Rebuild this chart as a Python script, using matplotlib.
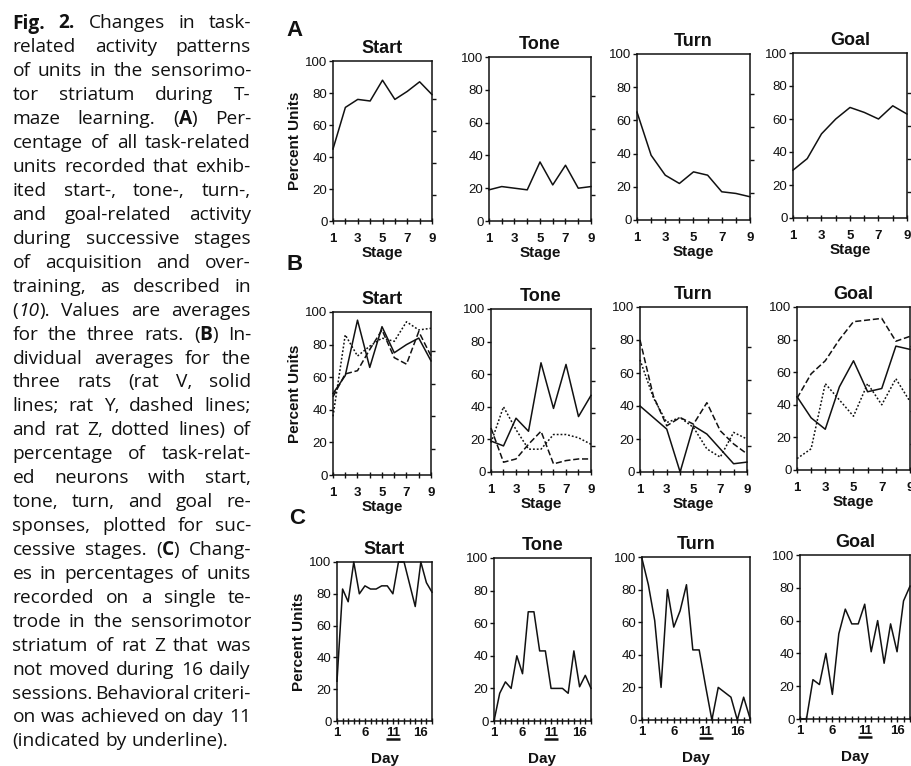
import re
import matplotlib
matplotlib.use('Agg')
import matplotlib.pyplot as plt
from matplotlib import transforms
from matplotlib.ticker import FixedLocator

W, H = 912, 766

stage = [1, 2, 3, 4, 5, 6, 7, 8, 9]
day = list(range(1, 19))
stage_labels = [1, 3, 5, 7, 9]
day_labels = [1, 6, 11, 16]
criterion_day = 11

# (A) averages for the three rats
a_start = [45, 71, 76, 75, 88, 76, 81, 87, 79]
a_tone = [19, 21, 20, 19, 36, 22, 34, 20, 21]
a_turn = [65, 39, 27, 22, 29, 27, 17, 16, 14]
a_goal = [29, 36, 51, 60, 67, 64, 60, 68, 63]

# (B) rat V solid, rat Y dashed, rat Z dotted
b_start_v = [50, 61, 95, 66, 91, 75, 80, 84, 70]
b_start_y = [48, 62, 64, 77, 89, 72, 68, 88, 73]
b_start_z = [36, 86, 73, 79, 84, 82, 94, 89, 90]
b_tone_v = [19, 16, 33, 25, 67, 39, 66, 34, 47]
b_tone_y = [27, 6, 8, 17, 25, 5, 7, 8, 8]
b_tone_z = [18, 40, 26, 14, 14, 23, 23, 21, 17]
b_turn_v = [40, 33, 26, 0, 28, 23, 14, 5, 6]
b_turn_y = [80, 46, 28, 33, 29, 42, 25, 17, 11]
b_turn_z = [68, 45, 30, 33, 27, 14, 9, 24, 20]
b_goal_v = [45, 32, 25, 51, 67, 48, 50, 76, 74]
b_goal_y = [44, 59, 67, 80, 91, 92, 93, 79, 82]
b_goal_z = [7, 13, 53, 43, 33, 53, 40, 56, 42]

# (C) single tetrode, rat Z, daily sessions
c_start = [25, 83, 75, 100, 80, 85, 83, 83, 85, 85, 80, 100, 100, 86, 72, 100, 87, 81]
c_tone = [0, 17, 24, 20, 40, 29, 67, 67, 43, 43, 20, 20, 20, 17, 43, 21, 28, 20]
c_turn = [99, 83, 61, 20, 80, 57, 67, 83, 43, 43, 21, 0, 20, 17, 14, 0, 14, 1]
c_goal = [0, 0, 24, 21, 40, 15, 52, 67, 58, 58, 70, 41, 60, 34, 58, 41, 72, 81]

titles = ['Start', 'Tone', 'Turn', 'Goal']

caption = [
    "<b>Fig.</b> <b>2.</b> Changes in task-",
    "related activity patterns",
    "of units in the sensorimo-",
    "tor striatum during T-",
    "maze learning. (<b>A</b>) Per-",
    "centage of all task-related",
    "units recorded that exhib-",
    "ited start-, tone-, turn-,",
    "and goal-related activity",
    "during successive stages",
    "of acquisition and over-",
    "training, as described in",
    "(<i>10</i>). Values are averages",
    "for the three rats. (<b>B</b>) In-",
    "dividual averages for the",
    "three rats (rat V, solid",
    "lines; rat Y, dashed lines;",
    "and rat Z, dotted lines) of",
    "percentage of task-relat-",
    "ed neurons with start,",
    "tone, turn, and goal re-",
    "sponses, plotted for suc-",
    "cessive stages. (<b>C</b>) Chang-",
    "es in percentages of units",
    "recorded on a single te-",
    "trode in the sensorimotor",
    "striatum of rat Z that was",
    "not moved during 16 daily",
    "sessions. Behavioral criteri-",
    "on was achieved on day 11",
    "(indicated by underline).",
]

# layout in pixels (left, right, top, bottom)
boxes = {
    'A': [(333, 432, 61, 221), (489, 591, 57, 221), (637, 750, 54, 220), (793, 907, 53, 218)],
    'B': [(333, 431, 312, 475), (491, 591, 309, 472), (640, 747, 307, 472), (797, 910, 307, 470)],
    'C': [(337, 432, 562, 721), (494, 591, 558, 721), (642, 750, 557, 720), (800, 910, 555, 719)],
}
letters = {'A': (295, 30), 'B': (295, 265), 'C': (297, 518)}

INK = '#111111'
FONT = 'Liberation Sans'
CAP_FONT = 'Open Sans'
DASHED = (0, (4, 1.8))
DOTTED = (0, (1.2, 1.3))

fig = plt.figure(figsize=(W / 100, H / 100), dpi=100)
fig.patch.set_facecolor('white')


def add_panel(box, title, x, series, row):
    left, right, top, bottom = box
    ax = fig.add_axes([left / W, 1 - bottom / H, (right - left) / W, (bottom - top) / H])
    for y, ls in series:
        ax.plot(x, y, color=INK, lw=1.1, linestyle=ls, clip_on=False)
    ax.set_xlim(x[0], x[-1])
    ax.set_ylim(0, 100)
    shown = stage_labels if row != 'C' else day_labels
    ax.set_xticks(x)
    ax.set_xticklabels([str(v) if v in shown else '' for v in x],
                       fontweight='bold', fontsize=9.5, family=FONT, color=INK)
    ax.set_yticks([0, 20, 40, 60, 80, 100])
    ax.set_yticklabels(['0', '20', '40', '60', '80', '100'], fontsize=9.5, family=FONT, color=INK)
    right_ticks = [16, 36, 56, 76] if row != 'C' else [20, 40, 60, 80]
    ax.yaxis.set_minor_locator(FixedLocator(right_ticks))
    ax.tick_params(axis='x', which='major', direction='inout', length=5, width=1,
                   color=INK, pad=6 if row != 'C' else 1.5)
    ax.tick_params(axis='y', which='major', direction='out', length=3, width=1,
                   color=INK, pad=1, left=True, right=False)
    ax.tick_params(axis='y', which='minor', direction='out', length=3, width=1,
                   color=INK, left=False, right=True)
    for sp in ax.spines.values():
        sp.set_linewidth(1.1)
        sp.set_color(INK)
    ax.set_title(title, fontsize=13, fontweight='bold', family=FONT, color=INK, pad=6)
    if row == 'C':
        ax.set_xlabel('Day', fontsize=11, fontweight='bold', family=FONT, color=INK, labelpad=10)
        mark = transforms.blended_transform_factory(ax.transData, ax.transAxes)
        ax.plot([criterion_day], [-18 / (bottom - top)], marker='_', ms=9.5, mew=1.8,
                color=INK, transform=mark, clip_on=False)
    else:
        ax.set_xlabel('Stage', fontsize=11, fontweight='bold', family=FONT, color=INK, labelpad=1)
    if title == 'Start':
        ax.set_ylabel('Percent Units', fontsize=11, fontweight='bold', family=FONT,
                      color=INK, labelpad=2)
    return ax


row_a = [a_start, a_tone, a_turn, a_goal]
for box, title, y in zip(boxes['A'], titles, row_a):
    add_panel(box, title, stage, [(y, '-')], 'A')

row_b = [(b_start_v, b_start_y, b_start_z), (b_tone_v, b_tone_y, b_tone_z),
         (b_turn_v, b_turn_y, b_turn_z), (b_goal_v, b_goal_y, b_goal_z)]
for box, title, (v, y, z) in zip(boxes['B'], titles, row_b):
    add_panel(box, title, stage, [(y, DASHED), (z, DOTTED), (v, '-')], 'B')

row_c = [c_start, c_tone, c_turn, c_goal]
for box, title, y in zip(boxes['C'], titles, row_c):
    add_panel(box, title, day, [(y, '-')], 'C')

for key, (lx, ly) in letters.items():
    fig.text(lx / W, 1 - ly / H, key, fontsize=16, fontweight='bold', family=FONT,
             color=INK, ha='center', va='center')

# justified caption on the left
renderer = fig.canvas.get_renderer()


def runs_of(token):
    out = []
    for part in re.split(r'(<[bi]>.*?</[bi]>)', token):
        if not part:
            continue
        m = re.match(r'<([bi])>(.*)</[bi]>', part)
        if m:
            out.append((m.group(2), 'bold' if m.group(1) == 'b' else 'normal',
                        'italic' if m.group(1) == 'i' else 'normal'))
        else:
            out.append((part, 'normal', 'normal'))
    return out


def text_width(s, size, weight='normal', style='normal'):
    t = fig.text(0, 0, s, fontsize=size, family=CAP_FONT, fontweight=weight, fontstyle=style)
    w = t.get_window_extent(renderer).width
    t.remove()
    return w


cap_left, cap_right = 12.5, 251.0
last_right = 229.0
base0, step = 28.5, 23.93
lines = [[runs_of(tok) for tok in line.split(' ')] for line in caption]


def words_width(line, size):
    return sum(text_width(s, size, w, st) for tok in line for s, w, st in tok)


ref = 10.0
sp_ref = text_width('a a', ref) - text_width('aa', ref)
size_last = ref * (last_right - cap_left) / (words_width(lines[-1], ref) + sp_ref * (len(lines[-1]) - 1))
size_fit = min(ref * (cap_right - cap_left) / (words_width(l, ref) + 0.55 * sp_ref * (len(l) - 1))
               for l in lines[:-1])
cap_size = min(size_last, size_fit)
space = text_width('a a', cap_size) - text_width('aa', cap_size)

for i, line in enumerate(lines):
    widths = [[text_width(s, cap_size, w, st) for s, w, st in tok] for tok in line]
    total = sum(sum(ws) for ws in widths)
    if i < len(lines) - 1 and len(line) > 1:
        gap = (cap_right - cap_left - total) / (len(line) - 1)
    else:
        gap = space
    x = cap_left
    yb = base0 + i * step
    for tok, ws in zip(line, widths):
        for (s, w, st), wd in zip(tok, ws):
            fig.text(x / W, 1 - yb / H, s, fontsize=cap_size, family=CAP_FONT,
                     fontweight=w, fontstyle=st, color=INK, ha='left', va='baseline')
            x += wd
        x += gap

fig.savefig('out.png', dpi=100)
